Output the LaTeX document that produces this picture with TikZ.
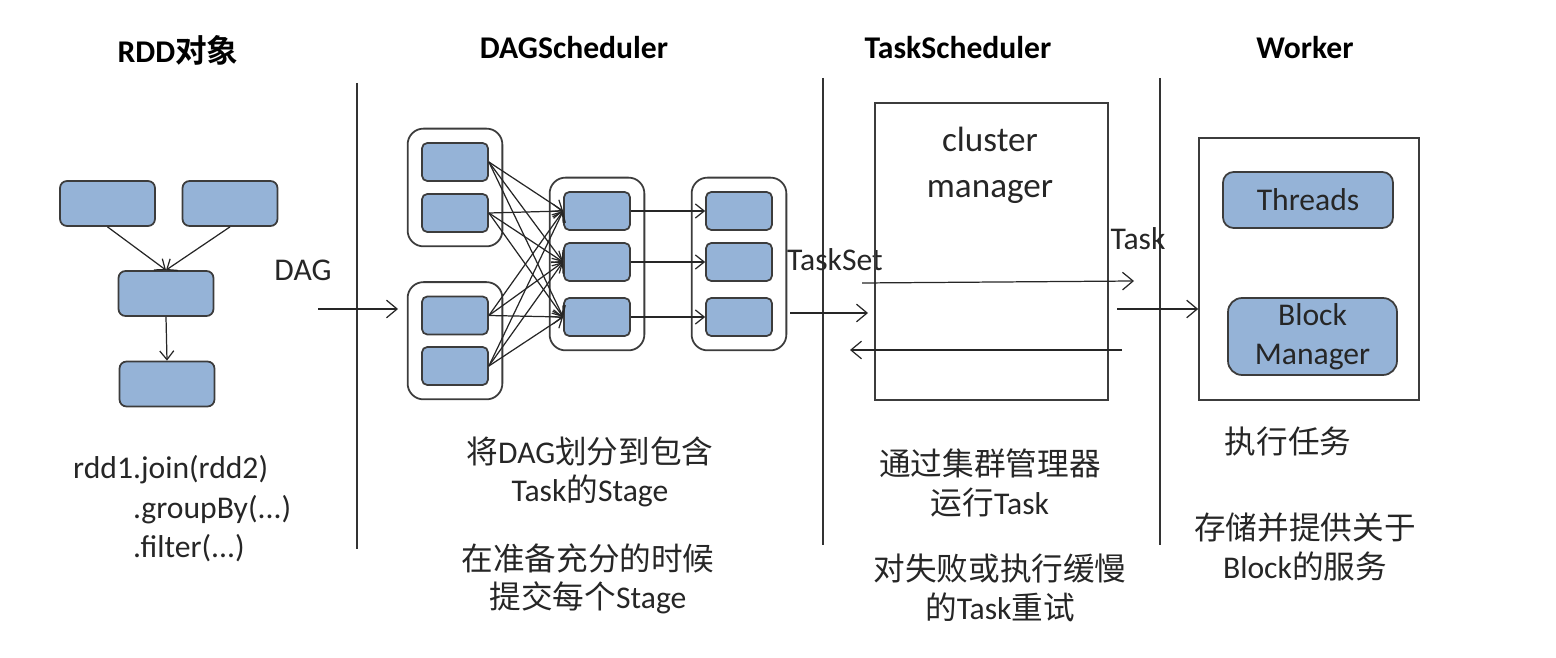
\documentclass[tikz,border=0pt]{standalone}
\usepackage{fontspec}
\setmainfont{Carlito}
\newfontfamily\cjk{Noto Sans CJK SC}[BoldFont={Noto Sans CJK SC Bold}]
\usetikzlibrary{arrows.meta,fit}

\definecolor{boxblue}{HTML}{95B3D7}
\definecolor{edge}{HTML}{3C3C3C}

\begin{document}
\begin{tikzpicture}[
    x=0.02cm, y=-0.02cm,
    font=\fontsize{18}{22}\selectfont,
    text=black!85,
    bluebox/.style={
        draw=edge,
        fill=boxblue,
        rounded corners=4pt,
        line width=1pt,
        inner sep=0pt
    },
    rddbox/.style={bluebox, minimum width=1.9cm, minimum height=0.9cm},
    taskbox/.style={bluebox, minimum width=1.32cm, minimum height=0.76cm, rounded corners=3pt},
    stagebox/.style={draw=edge, rounded corners=9pt, line width=1pt, inner sep=0.27cm},
    plainbox/.style={draw=edge, line width=1pt, inner sep=0pt},
    divider/.style={draw=black!80, line width=0.9pt},
    heading/.style={font=\fontsize{18}{22}\selectfont\bfseries, text=black},
    note/.style={align=center},
    arrow/.style={-{Straight Barb[length=5pt,width=8pt]}, line width=0.7pt, draw=black!85},
    bigarrow/.style={arrow, -{Straight Barb[length=6pt,width=10pt]}}
]
\useasboundingbox (0,0) rectangle (1556,658);

% ===== Headings =====
\node[heading] (hrdd)  at (178,50) {RDD{\cjk 对象}};
\node[heading] (hdag)  at (574,48) {DAGScheduler};
\node[heading] (htask) at (958,48) {TaskScheduler};
\node[heading] (hwork) at (1305,48) {Worker};

% ===== Dividers =====
\draw[divider] (357,83) -- (357,549);
\draw[divider] (823,78) -- (823,545);
\draw[divider] (1160,78) -- (1160,545);

% ===== RDD objects =====
\node[rddbox] (r1) at (107.5,203.5) {};
\node[rddbox] (r2) at (230,203.5) {};
\node[rddbox] (r3) at (166,293.5) {};
\node[rddbox] (r4) at (167,384) {};

\draw[arrow] (r1.south) -- (r3.north);
\draw[arrow] (r2.south) -- (r3.north);
\draw[arrow] (r3.south) -- (r4.north);

\node (rddcode1) at (67,470) [anchor=west] {rdd1.join(rdd2)};
\node (rddcode2) at (127,510) [anchor=west] {.groupBy(...)};
\node (rddcode3) at (127,548) [anchor=west] {.filter(...)};

% ===== DAG input =====
\coordinate (dagin)  at (318,309);
\coordinate (dagout) at (398,309);
\draw[bigarrow] (dagin) -- (dagout);
\node (daglabel) at (303,270) {DAG};

% ===== Stages =====
\node[taskbox] (a1) at (455,162) {};
\node[taskbox] (a2) at (455,213) {};
\node[taskbox] (b1) at (455,315.5) {};
\node[taskbox] (b2) at (455,366) {};
\node[taskbox] (c1) at (597,211) {};
\node[taskbox] (c2) at (597,262) {};
\node[taskbox] (c3) at (597,317) {};
\node[taskbox] (d1) at (739,211) {};
\node[taskbox] (d2) at (739,262) {};
\node[taskbox] (d3) at (739,317) {};

\node[stagebox, fit=(a1)(a2)] (stA) {};
\node[stagebox, fit=(b1)(b2)] (stB) {};
\node[stagebox, fit=(c1)(c3)] (stC) {};
\node[stagebox, fit=(d1)(d3)] (stD) {};

\foreach \s in {a1,a2,b1,b2}
    \foreach \t in {c1,c2,c3}
        \draw[arrow] (\s.east) -- (\t.west);
\foreach \n in {1,2,3}
    \draw[arrow] (c\n.east) -- (d\n.west);

\node[note] (dagnote1) at (590,472) {{\cjk 将}DAG{\cjk 划分到包含}\\Task{\cjk 的}Stage};
\node[note] (dagnote2) at (588,579) {{\cjk 在准备充分的时候}\\{\cjk 提交每个}Stage};

% ===== TaskScheduler =====
\coordinate (tsin)  at (790,313);
\coordinate (tsout) at (868,313);
\draw[bigarrow] (tsin) -- (tsout);
\node (tslabel) at (835,260) {TaskSet};

\node[plainbox, minimum width=4.66cm, minimum height=5.94cm] (cm) at (991.5,251.5) {};
\node[note, font=\fontsize{20}{26}\selectfont] (cmlabel) at (990,165) {cluster\\manager};

\coordinate (cmout1) at (862,283);
\coordinate (cmout2) at (1134,281);
\coordinate (cmback1) at (1122,350);
\coordinate (cmback2) at (850,350);
\draw[bigarrow] (cmout1) -- (cmout2);
\draw[bigarrow] (cmback1) -- (cmback2);
\node (tasklabel) at (1138,239) {Task};

\node[note] (tsnote1) at (990,483) {{\cjk 通过集群管理器}\\{\cjk 运行}Task};
\node[note] (tsnote2) at (1000,588) {{\cjk 对失败或执行缓慢}\\{\cjk 的}Task{\cjk 重试}};

% ===== Worker =====
\node[plainbox, minimum width=4.4cm, minimum height=5.24cm] (wk) at (1309,269) {};
\node[bluebox, rounded corners=6pt, minimum width=3.4cm, minimum height=1.12cm] (threads) at (1308,200) {Threads};
\node[bluebox, rounded corners=8pt, align=center, minimum width=3.38cm, minimum height=1.54cm] (blockmgr) at (1312.5,336.5) {Block\\Manager};

\coordinate (wkin) at (1117,309);
\draw[bigarrow] (wkin) -- (wk.west |- wkin);

\node[note] (wknote1) at (1288,442) {{\cjk 执行任务}};
\node[note] (wknote2) at (1305,547) {{\cjk 存储并提供关于}\\Block{\cjk 的服务}};

\end{tikzpicture}
\end{document}
